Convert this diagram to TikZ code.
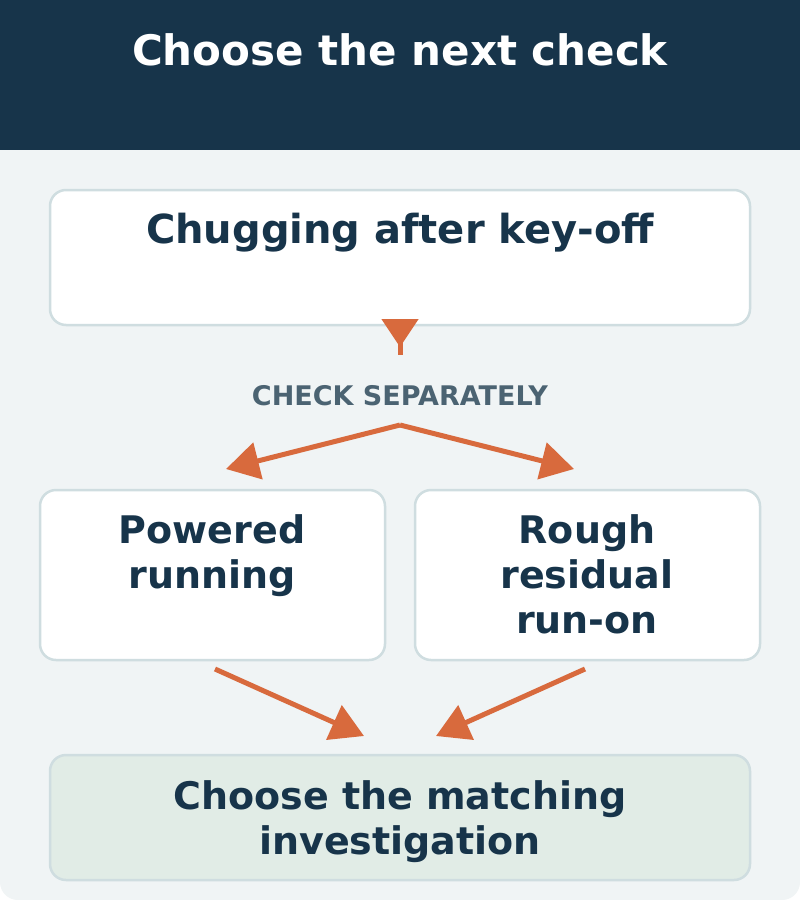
\documentclass[tikz,border=0pt]{standalone}
\usepackage{fontspec}
\setmainfont{DejaVu Sans}
\usetikzlibrary{arrows.meta}
\definecolor{navy}{HTML}{17344A}
\definecolor{bgc}{HTML}{F0F4F5}
\definecolor{bord}{HTML}{CFDDE0}
\definecolor{orng}{HTML}{D86A3D}
\definecolor{greenf}{HTML}{E1ECE6}
\definecolor{slate}{HTML}{4B6372}
\begin{document}
\begin{tikzpicture}[x=1pt,y=-1pt,
 box/.style={draw=bord, line width=2.5pt, fill=white, rounded corners=16pt, inner sep=0pt},
 lbl/.style={font=\fontsize{38}{45}\selectfont\bfseries, text=navy, align=center, anchor=base, inner sep=0pt},
 stemline/.style={draw=orng, line width=5pt},
 conn/.style={draw=orng, line width=5pt, -{Triangle[length=33pt,width=37pt]}},
]
\useasboundingbox (0,0) rectangle (800,900);
\fill[white] (0,0) rectangle (800,900);
\fill[bgc, rounded corners=18pt] (0,100) -- (0,900) -- (800,900) -- (800,100) -- cycle;
\fill[navy] (0,0) rectangle (800,150);
\node[lbl, text=white, font=\fontsize{42}{50}\selectfont\bfseries] (title) at (400,65) {Choose the next check};

\node[box, minimum width=700pt, minimum height=135pt] (b1) at (400,257.5) {};
\node[lbl, font=\fontsize{40}{45}\selectfont\bfseries] (t1) at (400,243) {Chugging after key-off};

\node[box, minimum width=345pt, minimum height=170pt] (p) at (212.5,575) {};
\node[lbl] (tp) at (212,588) {Powered\\running};
\node[box, minimum width=345pt, minimum height=170pt] (r) at (587.5,575) {};
\node[lbl] (tr) at (587,633) {Rough\\residual\\run-on};

\node[box, fill=greenf, minimum width=700pt, minimum height=125pt] (m) at (400,817.5) {};
\node[lbl] (tm) at (400,854) {Choose the matching\\investigation};

\node[font=\fontsize{27}{30}\selectfont\bfseries, text=slate, anchor=base, inner sep=0pt] (cs) at (400,405) {CHECK SEPARATELY};

\coordinate (tip1) at (400,347);
\coordinate (stem1) at (400,355);
\draw[stemline] (b1.south) -- (stem1);
\draw[conn, -{Triangle[length=28pt,width=36pt]}] ([yshift=6pt]b1.south) -- (tip1);

\coordinate (split) at (400,425);
\coordinate (lt) at (226,469);
\coordinate (rt) at (574,469);
\draw[conn] (split) -- (lt);
\draw[conn] (split) -- (rt);

\coordinate (ls) at (215,669);
\coordinate (le) at (364,736);
\coordinate (rs) at (585,669);
\coordinate (re) at (436,736);
\draw[conn] (ls) -- (le);
\draw[conn] (rs) -- (re);
\end{tikzpicture}
\end{document}
